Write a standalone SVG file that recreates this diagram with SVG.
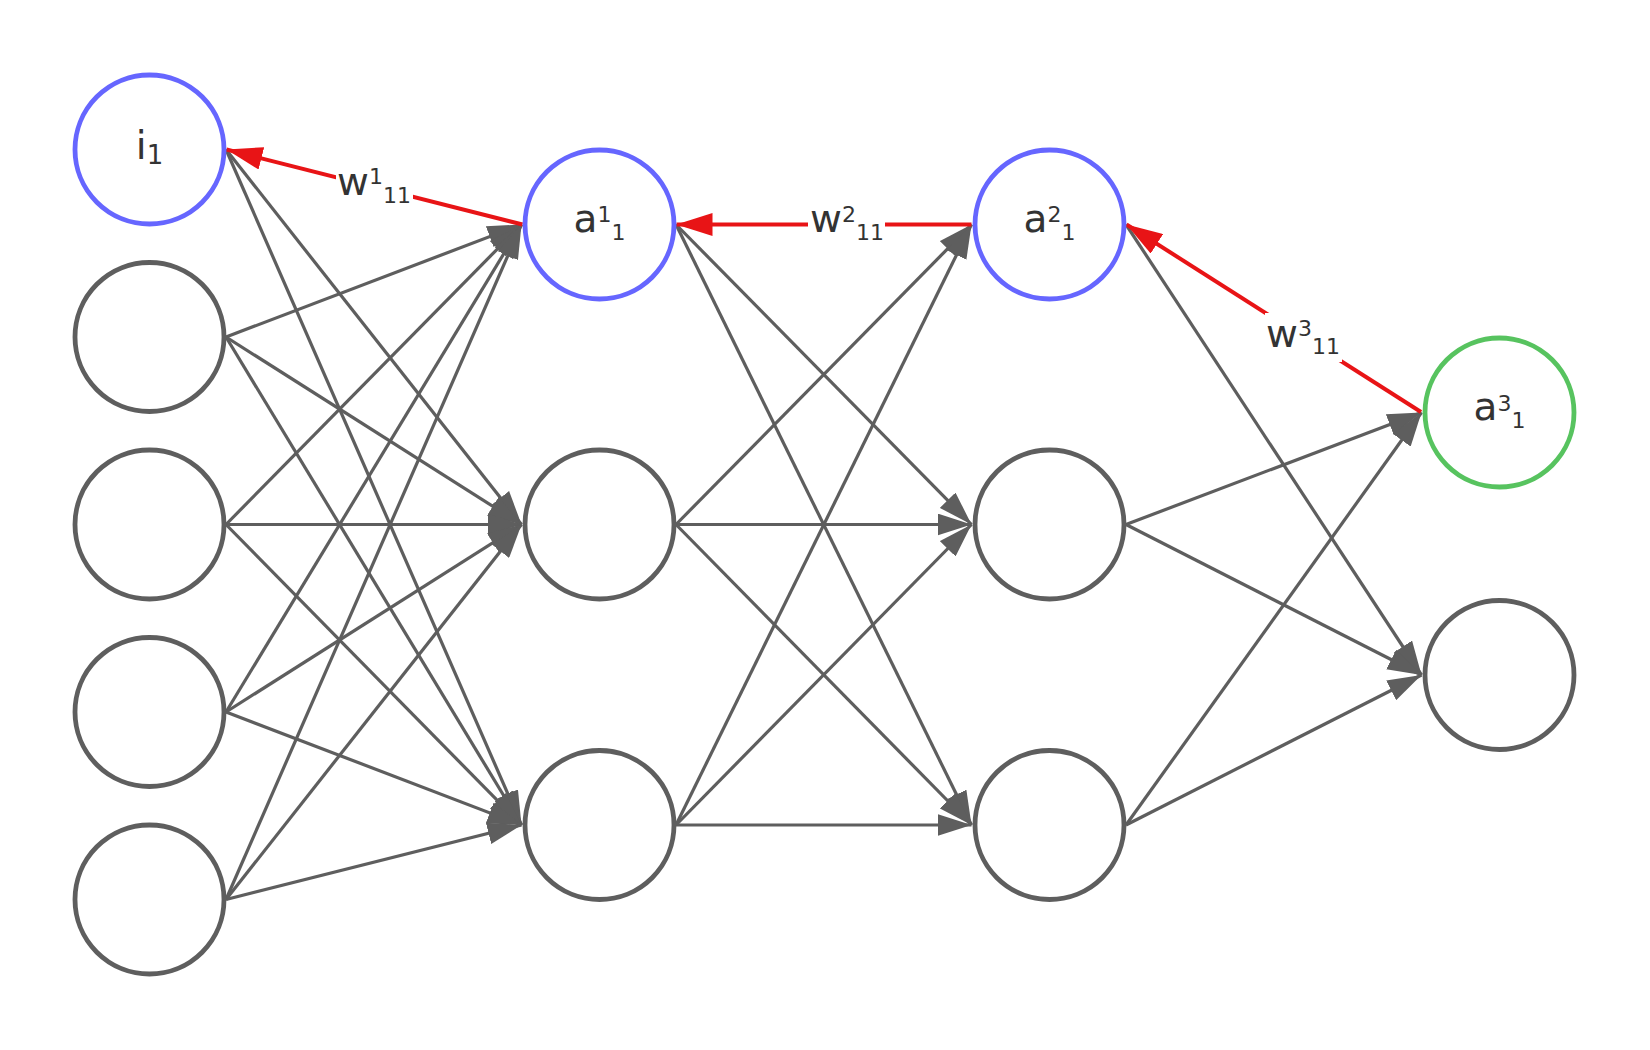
<svg xmlns="http://www.w3.org/2000/svg" width="1650" height="1050" viewBox="0 0 1650 1050">
<style>
.n{fill:#fff;stroke:#5e5e5e;stroke-width:4.8}
.nb{fill:#fff;stroke:#6666ff;stroke-width:4.8}
.ng{fill:#fff;stroke:#57c35f;stroke-width:4.8}
.e{stroke:#5e5e5e;stroke-width:3.2;fill:none;marker-end:url(#ag)}
.r{stroke:#e81416;stroke-width:4;fill:none;marker-end:url(#ar)}
.t{font-family:"DejaVu Sans",Verdana,sans-serif;fill:#333;font-size:39px}
.s{font-size:22px}
.bg{fill:#fff}
</style>
<defs>
<marker id="ag" markerUnits="userSpaceOnUse" viewBox="0 0 34 22" markerWidth="34" markerHeight="22" refX="34" refY="11" orient="auto"><path d="M0,0 L34,11 L0,22 z" fill="#5e5e5e"/></marker>
<marker id="ar" markerUnits="userSpaceOnUse" viewBox="0 0 36 23" markerWidth="36" markerHeight="23" refX="36" refY="11.5" orient="auto"><path d="M0,0 L36,11.5 L0,23 z" fill="#e81416"/></marker>
</defs>
<rect width="1650" height="1050" fill="#fff"/>
<g id="connectors">
<line class="e" x1="226" y1="149.5" x2="521.5" y2="524.5"/>
<line class="e" x1="226" y1="149.5" x2="521.5" y2="825"/>
<line class="e" x1="226" y1="337" x2="521.5" y2="224.5"/>
<line class="e" x1="226" y1="337" x2="521.5" y2="524.5"/>
<line class="e" x1="226" y1="337" x2="521.5" y2="825"/>
<line class="e" x1="226" y1="524.5" x2="521.5" y2="224.5"/>
<line class="e" x1="226" y1="524.5" x2="521.5" y2="524.5"/>
<line class="e" x1="226" y1="524.5" x2="521.5" y2="825"/>
<line class="e" x1="226" y1="712" x2="521.5" y2="224.5"/>
<line class="e" x1="226" y1="712" x2="521.5" y2="524.5"/>
<line class="e" x1="226" y1="712" x2="521.5" y2="825"/>
<line class="e" x1="226" y1="899.5" x2="521.5" y2="224.5"/>
<line class="e" x1="226" y1="899.5" x2="521.5" y2="524.5"/>
<line class="e" x1="226" y1="899.5" x2="521.5" y2="825"/>
<line class="e" x1="676" y1="224.5" x2="971.5" y2="524.5"/>
<line class="e" x1="676" y1="224.5" x2="971.5" y2="825"/>
<line class="e" x1="676" y1="524.5" x2="971.5" y2="224.5"/>
<line class="e" x1="676" y1="524.5" x2="971.5" y2="524.5"/>
<line class="e" x1="676" y1="524.5" x2="971.5" y2="825"/>
<line class="e" x1="676" y1="825" x2="971.5" y2="224.5"/>
<line class="e" x1="676" y1="825" x2="971.5" y2="524.5"/>
<line class="e" x1="676" y1="825" x2="971.5" y2="825"/>
<line class="e" x1="1126" y1="224.5" x2="1421.5" y2="675"/>
<line class="e" x1="1126" y1="524.5" x2="1421.5" y2="412.5"/>
<line class="e" x1="1126" y1="524.5" x2="1421.5" y2="675"/>
<line class="e" x1="1126" y1="825" x2="1421.5" y2="412.5"/>
<line class="e" x1="1126" y1="825" x2="1421.5" y2="675"/>
<line class="r" x1="522.5" y1="224.5" x2="226.5" y2="149.5"/>
<line class="r" x1="971.5" y1="224.5" x2="676.5" y2="224.5"/>
<line class="r" x1="1421" y1="412" x2="1126.5" y2="224.5"/>
<g id="label-w1">
<rect class="bg" x="336" y="163" width="77" height="48"/>
<text class="t" x="374" y="195" text-anchor="middle">w<tspan class="s" dy="-11">1</tspan><tspan class="s" dy="19">11</tspan></text>
</g>
<g id="label-w2">
<rect class="bg" x="808" y="202" width="77" height="46"/>
<text class="t" x="847" y="231.5" text-anchor="middle">w<tspan class="s" dy="-10">2</tspan><tspan class="s" dy="18">11</tspan></text>
</g>
<g id="label-w3">
<rect class="bg" x="1265" y="313" width="77" height="49"/>
<text class="t" x="1303" y="346.5" text-anchor="middle">w<tspan class="s" dy="-11">3</tspan><tspan class="s" dy="18">11</tspan></text>
</g>
</g>
<g id="i1"><circle class="nb" cx="149.5" cy="149.5" r="74.5"/><text class="t" x="149.5" y="158.5" text-anchor="middle">i<tspan style="font-size:26px" dy="5">1</tspan></text></g>
<g id="in2"><circle class="n" cx="149.5" cy="337" r="74.5"/></g>
<g id="in3"><circle class="n" cx="149.5" cy="524.5" r="74.5"/></g>
<g id="in4"><circle class="n" cx="149.5" cy="712" r="74.5"/></g>
<g id="in5"><circle class="n" cx="149.5" cy="899.5" r="74.5"/></g>
<g id="a1_1"><circle class="nb" cx="599.5" cy="224.5" r="74.5"/><text class="t" x="599.5" y="231.7" text-anchor="middle">a<tspan class="s" dy="-9.5">1</tspan><tspan class="s" dy="17.8">1</tspan></text></g>
<g id="a1_2"><circle class="n" cx="599.5" cy="524.5" r="74.5"/></g>
<g id="a1_3"><circle class="n" cx="599.5" cy="825" r="74.5"/></g>
<g id="a2_1"><circle class="nb" cx="1049.5" cy="224.5" r="74.5"/><text class="t" x="1049.5" y="231.7" text-anchor="middle">a<tspan class="s" dy="-9.5">2</tspan><tspan class="s" dy="17.8">1</tspan></text></g>
<g id="a2_2"><circle class="n" cx="1049.5" cy="524.5" r="74.5"/></g>
<g id="a2_3"><circle class="n" cx="1049.5" cy="825" r="74.5"/></g>
<g id="a3_1"><circle class="ng" cx="1499.5" cy="412.5" r="74.5"/><text class="t" x="1499.5" y="420" text-anchor="middle">a<tspan class="s" dy="-9.5">3</tspan><tspan class="s" dy="17.8">1</tspan></text></g>
<g id="a3_2"><circle class="n" cx="1499.5" cy="675" r="74.5"/></g>
</svg>
